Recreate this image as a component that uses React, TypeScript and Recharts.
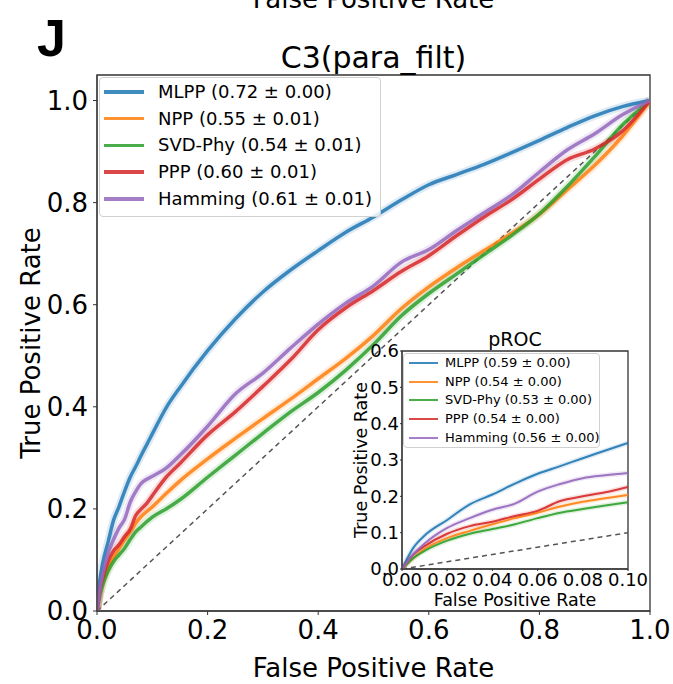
import React from "react";
import { LineChart, Line, XAxis, YAxis, Legend, ReferenceArea } from "recharts";

const FONT = "DejaVu Sans";

// shared false-positive-rate grid
const FPR = [0, 0.005, 0.01, 0.02, 0.03, 0.04, 0.05, 0.06, 0.07, 0.08, 0.09, 0.1, 0.125, 0.15, 0.2, 0.25, 0.3, 0.35, 0.4, 0.45, 0.5, 0.55, 0.6, 0.65, 0.7, 0.75, 0.8, 0.85, 0.9, 0.95, 1];

// true-positive-rate per method
const MLPP = [0, 0.058, 0.092, 0.135, 0.178, 0.205, 0.235, 0.262, 0.283, 0.305, 0.326, 0.347, 0.398, 0.438, 0.51, 0.572, 0.625, 0.668, 0.706, 0.742, 0.772, 0.805, 0.835, 0.855, 0.875, 0.898, 0.922, 0.947, 0.97, 0.988, 1];
const NPP = [0, 0.03, 0.055, 0.085, 0.105, 0.123, 0.14, 0.155, 0.172, 0.185, 0.195, 0.204, 0.23, 0.255, 0.298, 0.338, 0.377, 0.415, 0.455, 0.495, 0.54, 0.592, 0.635, 0.672, 0.706, 0.74, 0.777, 0.825, 0.873, 0.93, 1];
const SVD_PHY = [0, 0.03, 0.05, 0.078, 0.097, 0.11, 0.123, 0.14, 0.155, 0.165, 0.175, 0.184, 0.2, 0.218, 0.262, 0.305, 0.348, 0.39, 0.428, 0.472, 0.522, 0.578, 0.622, 0.66, 0.698, 0.736, 0.778, 0.831, 0.89, 0.952, 1];
const PPP = [0, 0.04, 0.063, 0.097, 0.118, 0.13, 0.146, 0.16, 0.187, 0.2, 0.211, 0.226, 0.262, 0.289, 0.345, 0.39, 0.44, 0.492, 0.551, 0.594, 0.628, 0.665, 0.696, 0.735, 0.772, 0.806, 0.846, 0.884, 0.905, 0.94, 1];
const HAMMING = [0, 0.04, 0.07, 0.113, 0.14, 0.163, 0.18, 0.213, 0.234, 0.25, 0.258, 0.264, 0.28, 0.305, 0.362, 0.425, 0.466, 0.515, 0.562, 0.603, 0.637, 0.683, 0.708, 0.745, 0.78, 0.815, 0.86, 0.903, 0.935, 0.972, 1];

const METHODS = ["MLPP", "NPP", "SVD-Phy", "PPP", "Hamming"];
const ROC_SCORES = ["0.72 ± 0.00", "0.55 ± 0.01", "0.54 ± 0.01", "0.60 ± 0.01", "0.61 ± 0.01"];
const PROC_SCORES = ["0.59 ± 0.00", "0.54 ± 0.00", "0.53 ± 0.00", "0.54 ± 0.00", "0.56 ± 0.00"];
const COLORS = ["#1f77b4", "#ff7f0e", "#2ca02c", "#d62728", "#9467bd"];

const MAIN_TICKS = [0, 0.2, 0.4, 0.6, 0.8, 1.0];
const INSET_X_TICKS = [0, 0.02, 0.04, 0.06, 0.08, 0.1];
const INSET_Y_TICKS = [0, 0.1, 0.2, 0.3, 0.4, 0.5, 0.6];
const INSET_MAX_FPR = 0.1;

const SERIES = [MLPP, NPP, SVD_PHY, PPP, HAMMING];
const KEYS = ["mlpp", "npp", "svd", "ppp", "ham"];

const rows = FPR.map((f, i) => {
  const r: any = { fpr: f, diag: f };
  KEYS.forEach((k, j) => (r[k] = SERIES[j][i]));
  return r;
});
const insetRows = rows.filter((r) => r.fpr <= INSET_MAX_FPR + 1e-9);

function LegendBox(props: any) {
  const { scores, width, height, rowH, firstY, lineX0, lineX1, textX, fontSize, lineW } = props;
  return (
    <div
      style={{
        position: "relative",
        width,
        height,
        boxSizing: "border-box",
        border: "1px solid #d0d0d0",
        borderRadius: 4,
        background: "rgba(255,255,255,0.85)",
        fontFamily: FONT,
      }}
    >
      {METHODS.map((m, idx) => {
        const cy = firstY + idx * rowH;
        return (
          <div key={m}>
            <div
              style={{
                position: "absolute",
                left: lineX0,
                top: cy - lineW / 2,
                width: lineX1 - lineX0,
                height: lineW,
                background: COLORS[idx],
                opacity: 0.85,
              }}
            />
            <div
              style={{
                position: "absolute",
                left: textX,
                top: cy - fontSize * 0.62,
                fontSize,
                lineHeight: "1.2",
                whiteSpace: "nowrap",
                color: "#000",
              }}
            >
              {m} ({scores[idx]})
            </div>
          </div>
        );
      })}
    </div>
  );
}

export default function App() {
  const tickMain = { fontSize: 26, fill: "#000", fontFamily: FONT };
  const tickInset = { fontSize: 18, fill: "#000", fontFamily: FONT };
  return (
    <div style={{ position: "absolute", left: 0, top: 0, width: 673, height: 684, background: "#fff" }}>
      <div style={{ position: "absolute", left: 0, top: 0 }}>
        <LineChart width={673} height={684} data={rows} margin={{ top: 75, right: 23, bottom: 0, left: 0 }}>
          <XAxis
            dataKey="fpr"
            type="number"
            domain={[0, 1]}
            ticks={MAIN_TICKS}
            tickFormatter={(v: number) => v.toFixed(1)}
            height={73}
            tick={tickMain}
            tickSize={4}
            tickMargin={6}
            stroke="#333"
            allowDataOverflow
          />
          <YAxis
            type="number"
            domain={[0, 1.05]}
            ticks={MAIN_TICKS}
            tickFormatter={(v: number) => v.toFixed(1)}
            width={97}
            tick={tickMain}
            tickSize={4}
            tickMargin={5}
            stroke="#333"
            allowDataOverflow
          />
          <ReferenceArea x1={0} x2={1} y1={0} y2={1.05} fill="none" stroke="#333" strokeWidth={1.3} ifOverflow="visible" />
          <Line dataKey="diag" type="linear" stroke="#555" strokeWidth={1.5} strokeDasharray="5 4" dot={false} legendType="none" isAnimationActive={false} />
          {KEYS.map((k, i) => (
            <Line key={"band" + k} dataKey={k} type="monotone" stroke={COLORS[i]} strokeOpacity={0.15} strokeWidth={8} dot={false} legendType="none" isAnimationActive={false} />
          ))}
          {KEYS.map((k, i) => (
            <Line key={k} dataKey={k} name={METHODS[i]} type="monotone" stroke={COLORS[i]} strokeOpacity={0.85} strokeWidth={3.5} dot={false} isAnimationActive={false} />
          ))}
          <Legend
            layout="vertical"
            verticalAlign="middle"
            align="center"
            wrapperStyle={{ position: "absolute", left: 99, top: 77, width: 282, height: 140 }}
            content={() => (
              <LegendBox scores={ROC_SCORES} width={282} height={140} rowH={26.7} firstY={14} lineX0={4} lineX1={44} textX={58} fontSize={18} lineW={3.5} />
            )}
          />
        </LineChart>
      </div>

      <div style={{ position: "absolute", left: 340, top: 320 }}>
        <LineChart width={325} height={295} data={insetRows} margin={{ top: 31, right: 37, bottom: 0, left: 0 }}>
          <XAxis
            dataKey="fpr"
            type="number"
            domain={[0, INSET_MAX_FPR]}
            ticks={INSET_X_TICKS}
            tickFormatter={(v: number) => v.toFixed(2)}
            height={46}
            tick={tickInset}
            tickSize={2}
            tickMargin={2}
            stroke="#333"
            interval={0}
            allowDataOverflow
          />
          <YAxis
            type="number"
            domain={[0, 0.6]}
            ticks={INSET_Y_TICKS}
            tickFormatter={(v: number) => v.toFixed(1)}
            width={62}
            tick={tickInset}
            tickSize={2}
            tickMargin={1}
            stroke="#333"
            interval={0}
            allowDataOverflow
          />
          <ReferenceArea x1={0} x2={INSET_MAX_FPR} y1={0} y2={0.6} fill="#fff" fillOpacity={1} stroke="#333" strokeWidth={1.3} ifOverflow="visible" />
          <Line dataKey="diag" type="linear" stroke="#555" strokeWidth={1.5} strokeDasharray="5 4" dot={false} legendType="none" isAnimationActive={false} />
          {KEYS.map((k, i) => (
            <Line key={"band" + k} dataKey={k} type="monotone" stroke={COLORS[i]} strokeOpacity={0.15} strokeWidth={5} dot={false} legendType="none" isAnimationActive={false} />
          ))}
          {KEYS.map((k, i) => (
            <Line key={k} dataKey={k} name={METHODS[i]} type="monotone" stroke={COLORS[i]} strokeOpacity={0.9} strokeWidth={2} dot={false} isAnimationActive={false} />
          ))}
          <Legend
            layout="vertical"
            verticalAlign="middle"
            align="center"
            wrapperStyle={{ position: "absolute", left: 63, top: 33, width: 197, height: 95 }}
            content={() => (
              <LegendBox scores={PROC_SCORES} width={197} height={95} rowH={18.7} firstY={9} lineX0={5} lineX1={34} textX={41} fontSize={13} lineW={2} />
            )}
          />
        </LineChart>
      </div>

      <svg width={673} height={684} style={{ position: "absolute", left: 0, top: 0, pointerEvents: "none" }}>
        <text x={373.5} y={8} textAnchor="middle" fontFamily={FONT} fontSize={26} fill="#000">False Positive Rate</text>
        <text x={37} y={56} fontFamily="Liberation Sans" fontWeight="bold" fontSize={52} fill="#000">J</text>
        <text x={373.5} y={68} textAnchor="middle" fontFamily={FONT} fontSize={30} fill="#000">C3(para_filt)</text>
        <text x={373.5} y={677} textAnchor="middle" fontFamily={FONT} fontSize={26} fill="#000">False Positive Rate</text>
        <text transform="translate(40,343) rotate(-90)" textAnchor="middle" fontFamily={FONT} fontSize={26} fill="#000">True Positive Rate</text>
        <text x={515} y={346} textAnchor="middle" fontFamily={FONT} fontSize={19} fill="#000">pROC</text>
        <text x={515} y={606} textAnchor="middle" fontFamily={FONT} fontSize={17.5} fill="#000">False Positive Rate</text>
        <text transform="translate(367,460) rotate(-90)" textAnchor="middle" fontFamily={FONT} fontSize={17.5} fill="#000">True Positive Rate</text>
      </svg>
    </div>
  );
}
